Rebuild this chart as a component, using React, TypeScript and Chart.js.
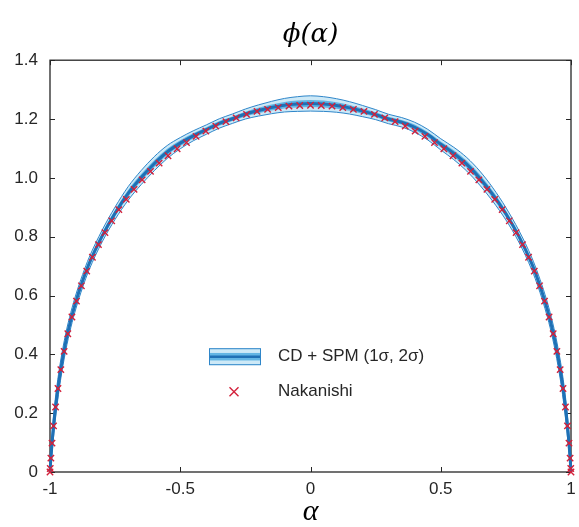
import React, { useEffect, useRef } from 'react';
import { Chart, registerables } from 'chart.js';

Chart.register(...registerables);

// ---- data ----
const alphaNak = [
  -1.0, -0.9991, -0.9966, -0.9923, -0.9864, -0.9787, -0.9694, -0.9584, -0.9458, -0.9316,
  -0.9158, -0.8984, -0.8795, -0.8591, -0.8372, -0.8139, -0.7891, -0.7631, -0.7357, -0.7071,
  -0.6773, -0.6463, -0.6142, -0.5811, -0.547, -0.5119, -0.4759, -0.4392, -0.4017, -0.3635,
  -0.3247, -0.2853, -0.2455, -0.2053, -0.1646, -0.1238, -0.0826, -0.0413, 0.0,
  0.0413, 0.0826, 0.1238, 0.1646, 0.2053, 0.2455, 0.2853, 0.3247, 0.3635, 0.4017,
  0.4392, 0.4759, 0.5119, 0.547, 0.5811, 0.6142, 0.6463, 0.6773, 0.7071, 0.7357,
  0.7631, 0.7891, 0.8139, 0.8372, 0.8591, 0.8795, 0.8984, 0.9158, 0.9316, 0.9458,
  0.9584, 0.9694, 0.9787, 0.9864, 0.9923, 0.9966, 0.9991, 1.0,
];
const phiNak = [
  0.0, 0.012, 0.047, 0.098, 0.157, 0.221, 0.284, 0.348, 0.41, 0.47,
  0.527, 0.581, 0.633, 0.683, 0.73, 0.773, 0.814, 0.854, 0.892, 0.927,
  0.961, 0.993, 1.022, 1.05, 1.075, 1.099, 1.12, 1.141, 1.159, 1.176,
  1.191, 1.204, 1.216, 1.226, 1.233, 1.239, 1.244, 1.246, 1.247,
  1.246, 1.244, 1.239, 1.233, 1.226, 1.216, 1.204, 1.191, 1.176, 1.159,
  1.141, 1.12, 1.099, 1.075, 1.05, 1.022, 0.993, 0.961, 0.927, 0.892,
  0.854, 0.814, 0.773, 0.73, 0.683, 0.633, 0.581, 0.527, 0.47, 0.41,
  0.348, 0.284, 0.221, 0.157, 0.098, 0.047, 0.012, 0.0,
];

const alphaBand = [
  -1.0, -0.998, -0.995, -0.99, -0.98, -0.97, -0.96, -0.94, -0.92, -0.9,
  -0.875, -0.85, -0.8, -0.75, -0.7, -0.65, -0.6, -0.55, -0.5, -0.45,
  -0.4, -0.35, -0.3, -0.25, -0.2, -0.15, -0.1, -0.05, 0.0,
  0.05, 0.1, 0.15, 0.2, 0.25, 0.3, 0.35, 0.4, 0.45, 0.5,
  0.55, 0.6, 0.65, 0.7, 0.75, 0.8, 0.85, 0.875, 0.9, 0.92,
  0.94, 0.96, 0.97, 0.98, 0.99, 0.995, 0.998, 1.0,
];
const phiBand = [
  0.0, 0.028, 0.066, 0.121, 0.21, 0.281, 0.342, 0.44, 0.517, 0.581,
  0.649, 0.708, 0.802, 0.88, 0.947, 1.001, 1.048, 1.088, 1.118, 1.143,
  1.164, 1.185, 1.201, 1.217, 1.229, 1.239, 1.247, 1.251, 1.253,
  1.251, 1.246, 1.238, 1.227, 1.215, 1.2, 1.189, 1.172, 1.147, 1.114,
  1.083, 1.046, 0.999, 0.943, 0.878, 0.801, 0.707, 0.648, 0.58, 0.516,
  0.438, 0.341, 0.281, 0.21, 0.121, 0.066, 0.028, 0.0,
];
const sigma1 = [
  0.005, 0.013, 0.016, 0.018, 0.018, 0.017, 0.016, 0.014, 0.013, 0.012,
  0.011, 0.011, 0.01, 0.011, 0.012, 0.012, 0.012, 0.011, 0.01, 0.009,
  0.008, 0.008, 0.008, 0.008, 0.009, 0.01, 0.011, 0.012, 0.012,
  0.012, 0.011, 0.01, 0.009, 0.008, 0.008, 0.008, 0.009, 0.009, 0.01,
  0.011, 0.012, 0.012, 0.012, 0.011, 0.01, 0.011, 0.011, 0.012, 0.013,
  0.014, 0.016, 0.017, 0.018, 0.018, 0.016, 0.013, 0.005,
];
const sigma2 = [
  0.01, 0.026, 0.032, 0.036, 0.036, 0.034, 0.032, 0.029, 0.026, 0.024,
  0.022, 0.021, 0.02, 0.021, 0.023, 0.024, 0.024, 0.022, 0.019, 0.017,
  0.016, 0.016, 0.016, 0.017, 0.019, 0.021, 0.023, 0.025, 0.026,
  0.025, 0.023, 0.021, 0.019, 0.017, 0.016, 0.016, 0.017, 0.018, 0.019,
  0.021, 0.023, 0.024, 0.023, 0.021, 0.02, 0.021, 0.022, 0.024, 0.026,
  0.029, 0.032, 0.034, 0.036, 0.036, 0.032, 0.026, 0.01,
];

const xTickValues = [-1, -0.5, 0, 0.5, 1];
const xTickLabels = ['-1', '-0.5', '0', '0.5', '1'];
const yTickValues = [0, 0.2, 0.4, 0.6, 0.8, 1.0, 1.2, 1.4];
const yTickLabels = ['0', '0.2', '0.4', '0.6', '0.8', '1.0', '1.2', '1.4'];

const titleText = 'ϕ(α)';
const xAxisTitle = 'α';
const legendLabels = ['CD + SPM (1σ, 2σ)', 'Nakanishi'];

// ---- styles ----
const DARK = '#1f70b5';
const EDGE = '#2f86c9';
const MID = '#62b5e4';
const LIGHT = '#cde9f7';
const RED = '#d3203a';
const INK = '#262626';
const SANS = 'Liberation Sans';
const SERIF = 'DejaVu Serif';

const framePlugin = {
  id: 'frame',
  beforeDatasetsDraw(chart: any) {
    const { ctx, chartArea: a, scales } = chart;
    ctx.save();
    ctx.strokeStyle = INK;
    ctx.lineWidth = 1;
    const L = 5;
    ctx.beginPath();
    scales.x.ticks.forEach((t: any) => {
      const px = Math.round(scales.x.getPixelForValue(t.value)) + 0.5;
      ctx.moveTo(px, a.bottom);
      ctx.lineTo(px, a.bottom - L);
      ctx.moveTo(px, a.top);
      ctx.lineTo(px, a.top + L);
    });
    scales.y.ticks.forEach((t: any) => {
      const py = Math.round(scales.y.getPixelForValue(t.value)) + 0.5;
      ctx.moveTo(a.left, py);
      ctx.lineTo(a.left + L, py);
      ctx.moveTo(a.right, py);
      ctx.lineTo(a.right - L, py);
    });
    ctx.stroke();
    ctx.lineWidth = 1.3;
    ctx.strokeRect(a.left, a.top, a.right - a.left, a.bottom - a.top);
    ctx.restore();
  },
  afterDraw(chart: any) {
    const { ctx, chartArea: a } = chart;
    ctx.save();
    // band entry
    const ix = a.left + 159;
    const iy = a.top + 288;
    const iw = 52;
    const ih = 17;
    ctx.fillStyle = LIGHT;
    ctx.fillRect(ix, iy, iw, ih);
    ctx.fillStyle = MID;
    ctx.fillRect(ix, iy + ih * 0.28, iw, ih * 0.44);
    ctx.strokeStyle = DARK;
    ctx.lineWidth = 2.5;
    ctx.beginPath();
    ctx.moveTo(ix, iy + ih / 2);
    ctx.lineTo(ix + iw, iy + ih / 2);
    ctx.stroke();
    ctx.lineWidth = 1;
    ctx.strokeStyle = EDGE;
    ctx.strokeRect(ix + 0.5, iy + 0.5, iw - 1, ih - 1);
    // marker entry
    const mx = ix + 25;
    const my = iy + ih / 2 + 35;
    const r = 4.5;
    ctx.strokeStyle = RED;
    ctx.lineWidth = 1.4;
    ctx.beginPath();
    ctx.moveTo(mx - r, my - r);
    ctx.lineTo(mx + r, my + r);
    ctx.moveTo(mx - r, my + r);
    ctx.lineTo(mx + r, my - r);
    ctx.stroke();
    // texts
    ctx.fillStyle = INK;
    ctx.font = `17px "${SANS}"`;
    ctx.textBaseline = 'middle';
    ctx.textAlign = 'left';
    ctx.fillText(legendLabels[0], ix + 69, iy + ih / 2);
    ctx.fillText(legendLabels[1], ix + 69, my);
    ctx.restore();
  },
};

export default function App() {
  const ref = useRef<HTMLCanvasElement | null>(null);

  useEffect(() => {
    if (!ref.current) return;
    const pts = (xs: number[], ys: number[]) => xs.map((x, i) => ({ x, y: ys[i] }));
    const upper1 = phiBand.map((v, i) => v + sigma1[i]);
    const lower1 = phiBand.map((v, i) => v - sigma1[i]);
    const upper2 = phiBand.map((v, i) => v + sigma2[i]);
    const lower2 = phiBand.map((v, i) => v - sigma2[i]);
    const lineBase = {
      pointRadius: 0,
      cubicInterpolationMode: 'monotone' as const,
      showLine: true,
    };

    const chart = new Chart(ref.current, {
      type: 'line',
      data: {
        datasets: [
          {
            label: legendLabels[1],
            data: pts(alphaNak, phiNak),
            showLine: false,
            pointStyle: 'crossRot',
            pointRadius: 4.5,
            pointBorderColor: RED,
            pointBackgroundColor: RED,
            pointBorderWidth: 1.4,
            clip: false as any,
          },
          {
            label: legendLabels[0],
            data: pts(alphaBand, phiBand),
            ...lineBase,
            borderColor: DARK,
            borderWidth: 3,
            fill: false,
            clip: 3 as any,
          },
          {
            label: 'lower2',
            data: pts(alphaBand, lower2),
            ...lineBase,
            borderColor: EDGE,
            borderWidth: 1,
            fill: false,
          },
          {
            label: 'upper1',
            data: pts(alphaBand, upper1),
            ...lineBase,
            borderColor: 'rgba(0,0,0,0)',
            borderWidth: 0,
            backgroundColor: MID,
            fill: 4,
          },
          {
            label: 'lower1',
            data: pts(alphaBand, lower1),
            ...lineBase,
            borderColor: 'rgba(0,0,0,0)',
            borderWidth: 0,
            fill: false,
          },
          {
            label: 'upper2',
            data: pts(alphaBand, upper2),
            ...lineBase,
            borderColor: EDGE,
            borderWidth: 1,
            backgroundColor: LIGHT,
            fill: 2,
          },
        ],
      },
      options: {
        animation: false,
        responsive: false,
        devicePixelRatio: 1,
        layout: { padding: { left: 0, right: 8, top: 0, bottom: 0 } },
        plugins: {
          legend: { display: false },
          tooltip: { enabled: false },
          title: {
            display: true,
            text: titleText,
            fullSize: false,
            color: '#000',
            font: { family: SERIF, style: 'italic', size: 26, weight: 'normal' },
            padding: { top: 20, bottom: 9 },
          },
        },
        scales: {
          x: {
            type: 'linear',
            min: -1,
            max: 1,
            grid: { display: false, drawTicks: false },
            border: { display: false },
            afterBuildTicks: (s: any) => {
              s.ticks = xTickValues.map((v) => ({ value: v }));
            },
            afterFit: (s: any) => {
              s.height = 55;
              s.paddingLeft = 0;
              s.paddingRight = 0;
            },
            ticks: {
              padding: 7,
              color: INK,
              font: { family: SANS, size: 17 },
              maxRotation: 0,
              autoSkip: false,
              callback: (v: any) => {
                const i = xTickValues.findIndex((t) => Math.abs(t - Number(v)) < 1e-9);
                return i >= 0 ? xTickLabels[i] : '';
              },
            },
            title: {
              display: true,
              text: xAxisTitle,
              color: '#000',
              font: { family: 'Liberation Serif', style: 'italic', size: 30, lineHeight: 1 },
              padding: { top: 0, bottom: 0 },
            },
          },
          y: {
            type: 'linear',
            min: 0,
            max: 1.4,
            grid: { display: false, drawTicks: false },
            border: { display: false },
            afterBuildTicks: (s: any) => {
              s.ticks = yTickValues.map((v) => ({ value: v }));
            },
            afterFit: (s: any) => {
              s.width = 50;
              s.paddingTop = 0;
              s.paddingBottom = 0;
            },
            ticks: {
              padding: 12,
              color: INK,
              font: { family: SANS, size: 17 },
              autoSkip: false,
              callback: (v: any) => {
                const i = yTickValues.findIndex((t) => Math.abs(t - Number(v)) < 1e-9);
                return i >= 0 ? yTickLabels[i] : '';
              },
            },
          },
        },
      },
      plugins: [framePlugin],
    } as any);

    return () => chart.destroy();
  }, []);

  return (
    <div style={{ position: 'fixed', left: 0, top: 0, width: 579, height: 527, background: '#fff' }}>
      <canvas ref={ref} width={579} height={527} style={{ display: 'block' }} />
    </div>
  );
}
